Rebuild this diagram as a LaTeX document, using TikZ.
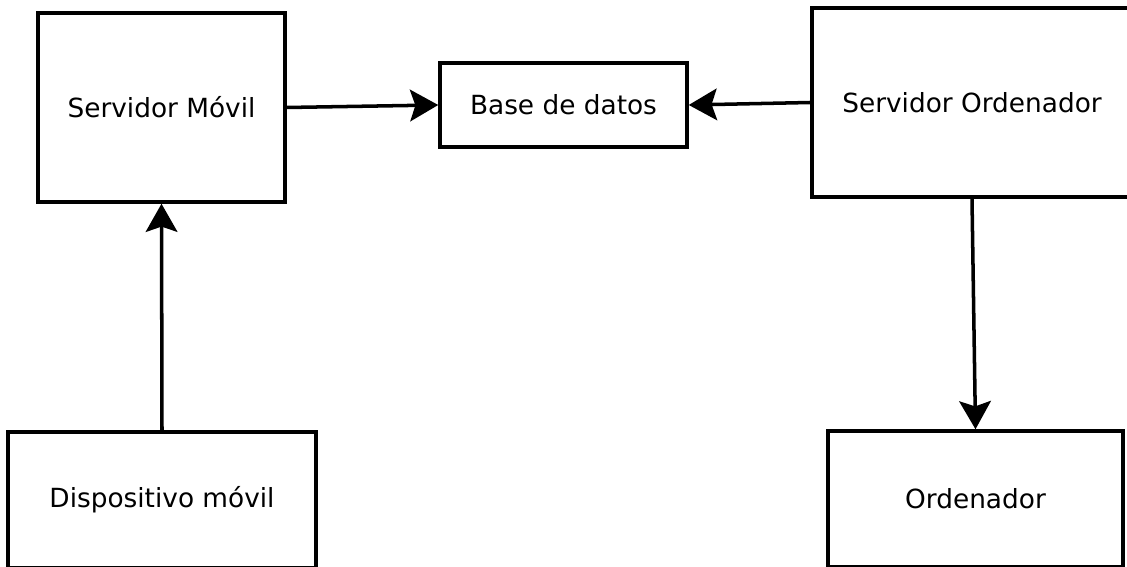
\documentclass[tikz,border=0pt]{standalone}
\usepackage{fontspec}
\setmainfont{DejaVu Sans}
\usetikzlibrary{arrows.meta}

\begin{document}
\begin{tikzpicture}[x=0.02cm,y=-0.02cm,line cap=round,line join=round,
  >={Stealth[length=16pt,width=18pt,inset=3pt]},
  every node/.style={inner sep=1pt},
  caja/.style={draw,line width=2pt,line cap=butt,line join=miter,
    font=\fontsize{15}{18}\selectfont}]
  \useasboundingbox (0,0) rectangle (1127,567);
  % servers, database and clients
  \node[caja,minimum width=247*0.02cm,minimum height=189*0.02cm] (sm) at (161.5,107.5) {Servidor Móvil};
  \node[caja,minimum width=247*0.02cm,minimum height=84*0.02cm] (bd) at (563.5,105) {Base de datos};
  \node[caja,minimum width=320*0.02cm,minimum height=189*0.02cm] (so) at (972,102.5) {Servidor Ordenador};
  \node[caja,minimum width=308*0.02cm,minimum height=136*0.02cm] (dm) at (162,500) {Dispositivo móvil};
  \node[caja,minimum width=295*0.02cm,minimum height=136*0.02cm] (ord) at (975.5,499) {Ordenador};
  % data flow
  \draw[->,line width=2pt] (sm.east) -- (bd.west);
  \draw[->,line width=2pt] (so.west) -- (bd.east);
  \draw[->,line width=2pt] (dm.north) -- (sm.south);
  \draw[->,line width=2pt] (so.south) -- (ord.north);
\end{tikzpicture}
\end{document}
